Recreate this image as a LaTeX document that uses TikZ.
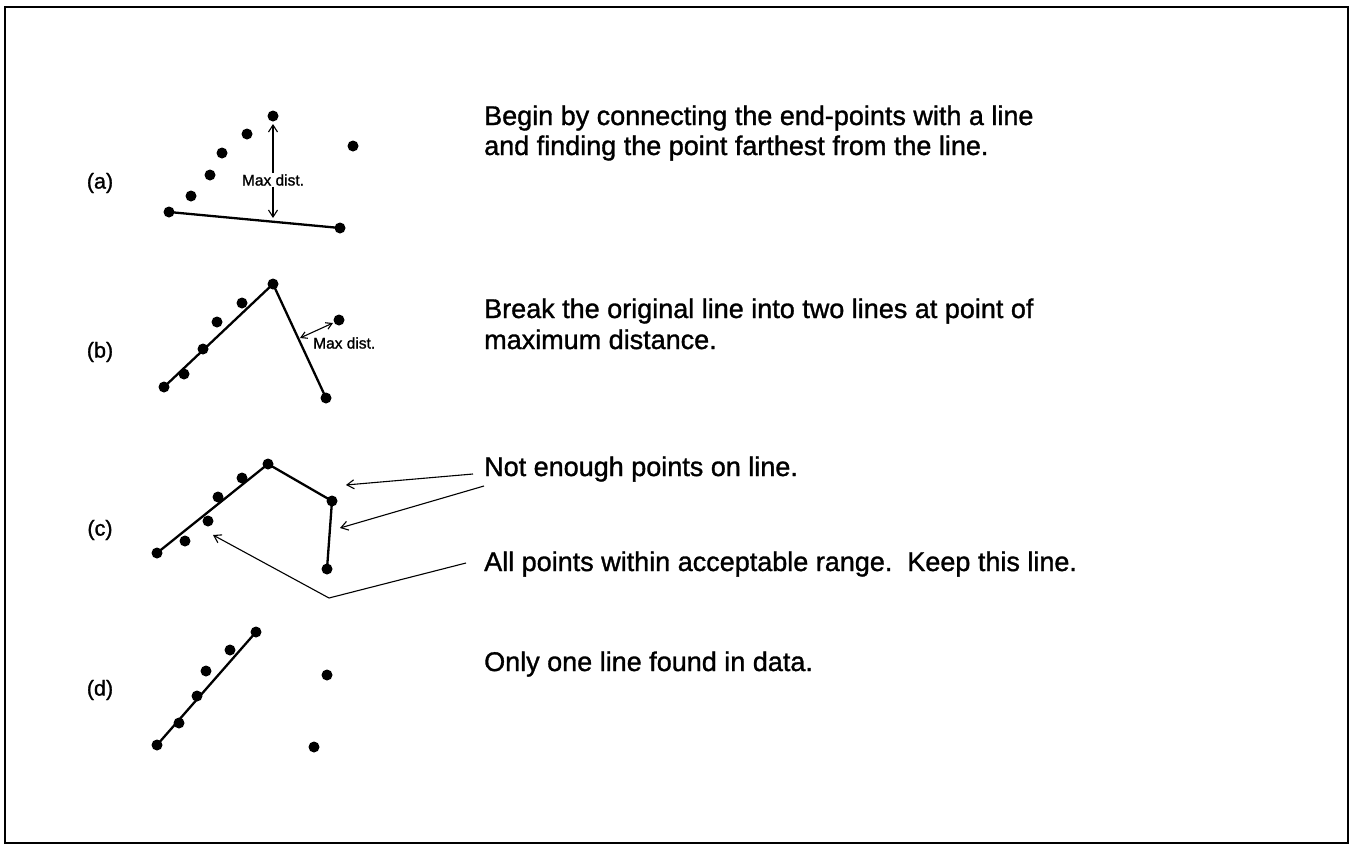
\documentclass[tikz,border=0pt]{standalone}
\usepackage{fontspec}
\setmainfont{Liberation Sans}
% slightly heavier variant of the regular face for all labels
\newfontfamily\heavyface{Liberation Sans}[BoldFont=Liberation Sans, BoldFeatures={FakeBold=1.2}]
\usetikzlibrary{arrows.meta}

\tikzset{
  dot/.style={circle, fill=black, inner sep=0pt, minimum size=11pt},
  fit line/.style={line width=2.3pt, black},
  pointer/.style={line width=1.1pt, -{Straight Barb[length=7pt,width=9pt,line width=1.1pt]}},
  both/.style={line width=1.1pt, {Straight Barb[length=6pt,width=7pt,line width=1.1pt]}-{Straight Barb[length=6pt,width=7pt,line width=1.1pt]}},
  caption/.style={anchor=base west, inner sep=0pt, font=\heavyface\bfseries\fontsize{27}{30.5}\selectfont},
  tag/.style={inner sep=0pt, font=\heavyface\bfseries\fontsize{21.5}{24}\selectfont},
  small/.style={inner sep=1pt, font=\heavyface\bfseries\fontsize{15.5}{18}\selectfont},
}

\begin{document}
\begin{tikzpicture}[x=1pt, y=-1pt]
  % frame
  \useasboundingbox (0,0) rectangle (1351,846);
  \fill[white] (0,0) rectangle (1351,846);
  \draw[line width=2.5pt] (5,7) rectangle (1348,843);

  % ---------- (a) ----------
  \node[tag] (la) at (100,183) {(a)};
  \node[dot] (a1) at (169,212) {};
  \node[dot] (a2) at (191,196) {};
  \node[dot] (a3) at (210,175) {};
  \node[dot] (a4) at (222,153) {};
  \node[dot] (a5) at (247,134) {};
  \node[dot] (a6) at (273,116) {};
  \node[dot] (a7) at (353,146) {};
  \node[dot] (a8) at (340,228) {};
  \draw[fit line] (a1.center) -- (a8.center);
  \node[small] (ma) at (273,180) {Max dist.};
  \coordinate (maT) at (273,124);
  \coordinate (maB) at (273,218);
  \draw[pointer] (ma.north) -- (maT);
  \draw[pointer] (ma.south) -- (maB);
  \node[caption] (ta1) at (484,125) {Begin by connecting the end-points with a line};
  \node[caption] (ta2) at (484,155) {and finding the point farthest from the line.};

  % ---------- (b) ----------
  \node[tag] (lb) at (100,352) {(b)};
  \node[dot] (b1) at (164,387) {};
  \node[dot] (b2) at (184,374) {};
  \node[dot] (b3) at (203,349) {};
  \node[dot] (b4) at (217,322) {};
  \node[dot] (b5) at (242,303) {};
  \node[dot] (b6) at (273,284) {};
  \node[dot] (b7) at (339,320) {};
  \node[dot] (b8) at (326,398) {};
  \draw[fit line] (b1.center) -- (b6.center) -- (b8.center);
  \coordinate (mbA) at (300,338);
  \coordinate (mbB) at (333,323);
  \draw[both] (mbA) -- (mbB);
  \node[small, anchor=west] (mb) at (312,343) {Max dist.};
  \node[caption] (tb1) at (484,318) {Break the original line into two lines at point of};
  \node[caption] (tb2) at (484,349) {maximum distance.};

  % ---------- (c) ----------
  \node[tag] (lc) at (100,530) {(c)};
  \node[dot] (c1) at (157,553) {};
  \node[dot] (c2) at (185,541) {};
  \node[dot] (c3) at (208,521) {};
  \node[dot] (c4) at (218,497) {};
  \node[dot] (c5) at (242,478) {};
  \node[dot] (c6) at (268,464) {};
  \node[dot] (c7) at (332,501) {};
  \node[dot] (c8) at (327,569) {};
  \draw[fit line] (c1.center) -- (c6.center) -- (c7.center) -- (c8.center);
  \node[caption] (tc1) at (484,476) {Not enough points on line.};
  \node[caption] (tc2) at (484,571) {All points within acceptable range.\ \ Keep this line.};
  \coordinate (p1s) at (473,474);
  \coordinate (p1e) at (346,485);
  \coordinate (p2s) at (484,486);
  \coordinate (p2e) at (340,528);
  \coordinate (p3s) at (466,563);
  \coordinate (p3k) at (329,598);
  \coordinate (p3e) at (213,535);
  \draw[pointer] (p1s) -- (p1e);
  \draw[pointer] (p2s) -- (p2e);
  \draw[pointer] (p3s) -- (p3k) -- (p3e);

  % ---------- (d) ----------
  \node[tag] (ld) at (100,690) {(d)};
  \node[dot] (d1) at (157,745) {};
  \node[dot] (d2) at (179,723) {};
  \node[dot] (d3) at (197,696) {};
  \node[dot] (d4) at (206,671) {};
  \node[dot] (d5) at (230,650) {};
  \node[dot] (d6) at (256,632) {};
  \node[dot] (d7) at (327,675) {};
  \node[dot] (d8) at (314,747) {};
  \draw[fit line] (d1.center) -- (d6.center);
  \node[caption] (td1) at (484,671) {Only one line found in data.};
\end{tikzpicture}
\end{document}
